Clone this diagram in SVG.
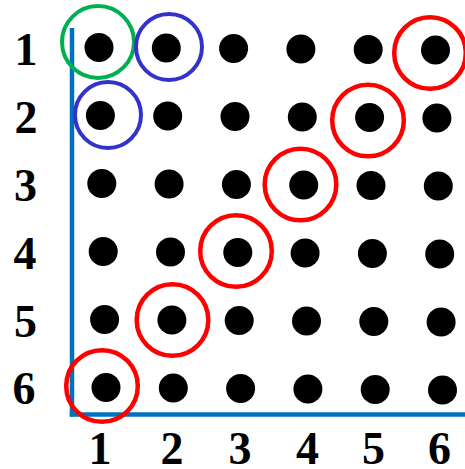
<svg xmlns="http://www.w3.org/2000/svg" width="465" height="469" viewBox="0 0 465 469">
<style>
.lbl{font-family:"Liberation Serif","Times New Roman",serif;font-weight:bold;font-size:46px;fill:#000;text-anchor:middle}
.dot{fill:#000}
.ring{fill:none}
.red{stroke:#FF0000;stroke-width:4.5}
.blue{stroke:#3333CC;stroke-width:4}
.green{stroke:#00B050;stroke-width:4}
.axis{stroke:#0070C0;stroke-width:4.5;fill:none}
</style>
<rect width="465" height="469" fill="#fff"/>
<g id="axes">
<line class="axis" x1="72" y1="28" x2="72" y2="416.5"/>
<line class="axis" x1="69.8" y1="414.5" x2="465" y2="414.5"/>
</g>
<g id="row-labels">
<text class="lbl" x="26" y="65">1</text>
<text class="lbl" x="26" y="133">2</text>
<text class="lbl" x="25.5" y="201">3</text>
<text class="lbl" x="25" y="269">4</text>
<text class="lbl" x="25.5" y="337">5</text>
<text class="lbl" x="24" y="404">6</text>
</g>
<g id="col-labels">
<text class="lbl" x="100" y="464">1</text>
<text class="lbl" x="172" y="464">2</text>
<text class="lbl" x="240" y="464">3</text>
<text class="lbl" x="307.5" y="464">4</text>
<text class="lbl" x="373.5" y="464">5</text>
<text class="lbl" x="439.5" y="464">6</text>
</g>
<g id="dots">
<circle class="dot" cx="99" cy="47.5" r="14.5"/>
<circle class="dot" cx="166.3" cy="48" r="14.5"/>
<circle class="dot" cx="233.6" cy="48.5" r="14.5"/>
<circle class="dot" cx="300.9" cy="49" r="14.5"/>
<circle class="dot" cx="368.2" cy="49.5" r="14.5"/>
<circle class="dot" cx="435.5" cy="50" r="14.5"/>
<circle class="dot" cx="100.4" cy="115.5" r="14.5"/>
<circle class="dot" cx="167.7" cy="116" r="14.5"/>
<circle class="dot" cx="235" cy="116.5" r="14.5"/>
<circle class="dot" cx="302.3" cy="117" r="14.5"/>
<circle class="dot" cx="369.6" cy="117.5" r="14.5"/>
<circle class="dot" cx="436.9" cy="118" r="14.5"/>
<circle class="dot" cx="101.8" cy="183.5" r="14.5"/>
<circle class="dot" cx="169.1" cy="184" r="14.5"/>
<circle class="dot" cx="236.4" cy="184.5" r="14.5"/>
<circle class="dot" cx="303.7" cy="185" r="14.5"/>
<circle class="dot" cx="371" cy="185.5" r="14.5"/>
<circle class="dot" cx="438.3" cy="186" r="14.5"/>
<circle class="dot" cx="103.2" cy="251.5" r="14.5"/>
<circle class="dot" cx="170.5" cy="252" r="14.5"/>
<circle class="dot" cx="237.8" cy="252.5" r="14.5"/>
<circle class="dot" cx="305.1" cy="253" r="14.5"/>
<circle class="dot" cx="372.4" cy="253.5" r="14.5"/>
<circle class="dot" cx="439.7" cy="254" r="14.5"/>
<circle class="dot" cx="104.6" cy="319.5" r="14.5"/>
<circle class="dot" cx="171.9" cy="320" r="14.5"/>
<circle class="dot" cx="239.2" cy="320.5" r="14.5"/>
<circle class="dot" cx="306.5" cy="321" r="14.5"/>
<circle class="dot" cx="373.8" cy="321.5" r="14.5"/>
<circle class="dot" cx="441.1" cy="322" r="14.5"/>
<circle class="dot" cx="106" cy="387.5" r="14.5"/>
<circle class="dot" cx="173.3" cy="388" r="14.5"/>
<circle class="dot" cx="240.6" cy="388.5" r="14.5"/>
<circle class="dot" cx="307.9" cy="389" r="14.5"/>
<circle class="dot" cx="375.2" cy="389.5" r="14.5"/>
<circle class="dot" cx="442.5" cy="390" r="14.5"/>
</g>
<g id="rings">
<circle class="ring green" cx="98" cy="42" r="36"/>
<circle class="ring blue" cx="169" cy="47" r="33"/>
<circle class="ring blue" cx="108" cy="115" r="33"/>
<circle class="ring red" cx="430" cy="53" r="35.8"/>
<circle class="ring red" cx="368" cy="120.5" r="35.8"/>
<circle class="ring red" cx="300.5" cy="184.5" r="35.8"/>
<circle class="ring red" cx="236" cy="251" r="35.8"/>
<circle class="ring red" cx="172.5" cy="320" r="35.8"/>
<circle class="ring red" cx="102" cy="386" r="35.8"/>
</g>
</svg>
